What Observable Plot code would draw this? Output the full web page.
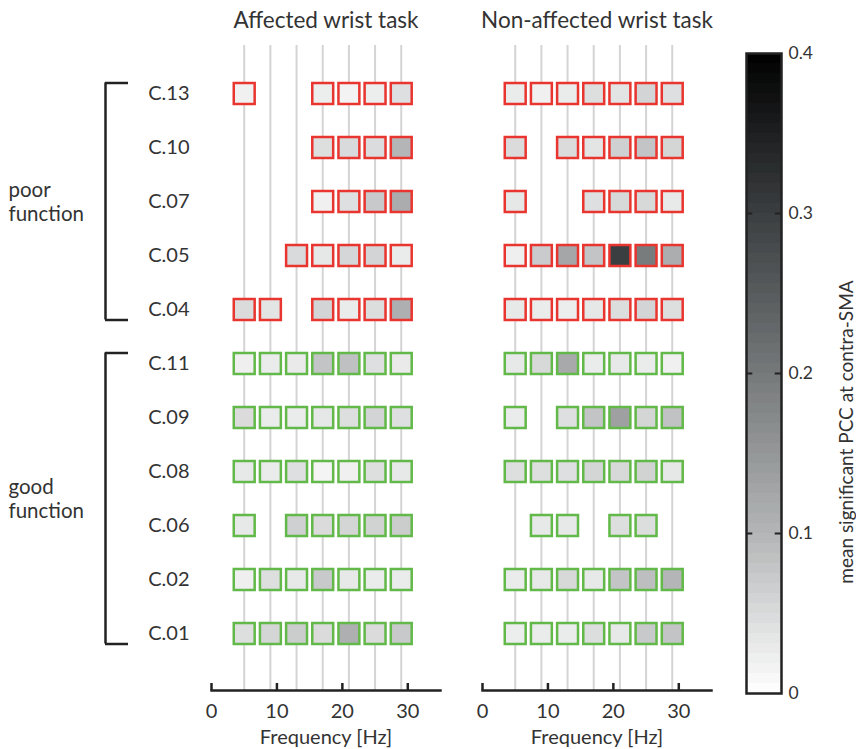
<!DOCTYPE html>
<html><head><meta charset="utf-8">
<script src="https://cdn.jsdelivr.net/npm/d3@7"></script>
<script src="https://cdn.jsdelivr.net/npm/@observablehq/plot@0.6"></script>
<style>
body{margin:0;background:#fff;}
#chart{position:relative;width:856px;height:749px;font-family:Lato,sans-serif;color:#333;}
#chart svg{position:absolute;left:0;top:0;overflow:visible;}
#cblabel{position:absolute;left:845px;top:432px;transform:translate(-50%,-50%) rotate(-90deg);white-space:nowrap;font-size:19px;line-height:1;}
</style></head><body><div id="chart"></div>
<script>
const subjects = ["C.13","C.10","C.07","C.05","C.04","C.11","C.09","C.08","C.06","C.02","C.01"];
const groups = ["poor","poor","poor","poor","poor","good","good","good","good","good","good"];
const groupNames = {poor: "poor\nfunction", good: "good\nfunction"};
const tasks = ["Affected wrist task","Non-affected wrist task"];
const frequencies = [5,9,13,17,21,25,29];
const affected = [
  [0.020, null, null, 0.025, 0.016, 0.025, 0.043],
  [null, null, null, 0.045, 0.050, 0.047, 0.100],
  [null, null, null, 0.020, 0.043, 0.073, 0.115],
  [null, null, 0.050, 0.033, 0.055, 0.058, 0.027],
  [0.048, 0.037, null, 0.058, 0.027, 0.046, 0.110],
  [0.021, 0.027, 0.028, 0.080, 0.085, 0.043, 0.028],
  [0.048, 0.027, 0.027, 0.033, 0.045, 0.058, 0.043],
  [0.031, 0.027, 0.043, 0.015, 0.020, 0.045, 0.031],
  [0.031, null, 0.063, 0.048, 0.056, 0.060, 0.068],
  [0.021, 0.045, 0.031, 0.073, 0.031, 0.027, 0.027],
  [0.045, 0.056, 0.068, 0.048, 0.110, 0.048, 0.073]
];
const nonAffected = [
  [0.027, 0.020, 0.027, 0.045, 0.037, 0.058, 0.043],
  [0.048, null, 0.048, 0.037, 0.063, 0.080, 0.056],
  [0.033, null, null, 0.043, 0.053, 0.053, 0.030],
  [0.021, 0.070, 0.125, 0.080, 0.300, 0.195, 0.113],
  [0.031, 0.027, 0.025, 0.033, 0.046, 0.058, 0.045],
  [0.031, 0.053, 0.120, 0.027, 0.031, 0.027, 0.020],
  [0.027, null, 0.043, 0.080, 0.135, 0.056, 0.082],
  [0.045, 0.045, 0.043, 0.056, 0.053, 0.060, 0.033],
  [null, 0.031, 0.031, null, 0.045, 0.046, null],
  [0.027, 0.031, 0.053, 0.031, 0.080, 0.088, 0.100],
  [0.025, 0.027, 0.027, 0.046, 0.031, 0.073, 0.080]
];
const xTicks = [0, 10, 20, 30];
const xLabel = "Frequency [Hz]";
const colorTicks = [0, 0.1, 0.2, 0.3, 0.4];
const colorStops = [0, 0.1, 0.2, 0.3, 0.4];
const colorRange = ["#ffffff", "#b3b5b6", "#76797a", "#3b3e40", "#000000"];
const colorLabel = "mean significant PCC at contra-SMA";

const RED = "#e9352f", GREEN = "#62b848", INK = "#333333", LINE = "#222222";
const colorScale = {type: "linear", domain: colorStops, range: colorRange};

const cells = [];
tasks.forEach((task, t) => {
  const m = t === 0 ? affected : nonAffected;
  subjects.forEach((s, i) => frequencies.forEach((f, j) => {
    const v = m[i][j];
    if (v != null) cells.push({task, subject: s, group: groups[i], freq: f, value: v});
  }));
});
const gridLines = tasks.flatMap(task => frequencies.map(freq => ({task, freq})));

const main = Plot.plot({
  width: 856, height: 749,
  marginLeft: 211, marginRight: 145, marginTop: 45, marginBottom: 59,
  style: {fontFamily: "Lato, sans-serif", fontSize: "20px", color: INK, background: "transparent"},
  fx: {domain: tasks, paddingInner: 0.155, paddingOuter: 0, label: null},
  x: {domain: [0, 35]},
  y: {type: "point", domain: subjects, padding: 0.972, align: 0.457},
  color: colorScale,
  marks: [
    Plot.ruleX(gridLines, {fx: "task", x: "freq", stroke: "#d4d4d4", strokeWidth: 2}),
    Plot.frame({anchor: "bottom", stroke: LINE, strokeWidth: 2.5}),
    Plot.axisFx({anchor: "top", tickSize: 0, tickPadding: 18, fontSize: 22.5, label: null}),
    Plot.axisX({ticks: xTicks, tickSize: -7, tickPadding: 20, stroke: LINE, strokeWidth: 2.5, label: null}),
    Plot.text(tasks, {fx: d => d, text: () => xLabel, frameAnchor: "bottom", lineAnchor: "middle", dy: 47, fill: INK}),
    Plot.axisY({tickSize: 0, tickPadding: 22, label: null}),
    Plot.dot(cells.filter(d => d.group === "poor"), {fx: "task", x: "freq", y: "subject", fill: "value",
      stroke: RED, strokeWidth: 2.5, symbol: "square", r: 11.8}),
    Plot.dot(cells.filter(d => d.group === "good"), {fx: "task", x: "freq", y: "subject", fill: "value",
      stroke: GREEN, strokeWidth: 2.5, symbol: "square", r: 11.8})
  ]
});

// brackets + group labels
const bracketGroups = ["poor", "good"].map(g => {
  const idx = groups.map((d, i) => d === g ? i : -1).filter(i => i >= 0);
  return {name: groupNames[g], first: d3.min(idx), last: d3.max(idx), mid: (d3.min(idx) + d3.max(idx)) / 2};
});
const brackets = Plot.plot({
  width: 856, height: 749,
  marginLeft: 105, marginRight: 728, marginTop: 45, marginBottom: 59,
  style: {fontFamily: "Lato, sans-serif", fontSize: "20.5px", color: INK, background: "transparent"},
  x: {domain: [0, 1], axis: null},
  y: {domain: [0, subjects.length - 1], range: [93, 633], axis: null},
  marks: [
    Plot.ruleX(bracketGroups, {x: 0, y1: "first", y2: "last", insetTop: -10.5, insetBottom: -10.5, stroke: LINE, strokeWidth: 2.5}),
    Plot.ruleY(bracketGroups, {y: "first", x1: 0, x2: 1, dy: -10.5, stroke: LINE, strokeWidth: 2.5}),
    Plot.ruleY(bracketGroups, {y: "last", x1: 0, x2: 1, dy: 10.5, stroke: LINE, strokeWidth: 2.5}),
    Plot.text(bracketGroups, {x: 0, y: "mid", text: "name", dx: -97, textAnchor: "start", lineHeight: 1.14, fill: INK})
  ]
});

// colorbar
const nLevels = 64;
const levels = d3.range(nLevels).map(i => ({lo: i * 0.4 / nLevels, hi: (i + 1) * 0.4 / nLevels}));
const bar = Plot.plot({
  width: 856, height: 749,
  marginLeft: 746, marginRight: 75, marginTop: 53, marginBottom: 56,
  style: {fontFamily: "Lato, sans-serif", fontSize: "17.5px", color: INK, background: "transparent"},
  x: {domain: [0, 1], axis: null},
  y: {domain: [0, 0.4], axis: null},
  color: colorScale,
  marks: [
    Plot.rect(levels, {x1: 0, x2: 1, y1: "lo", y2: "hi", fill: d => (d.lo + d.hi) / 2, shapeRendering: "crispEdges"}),
    Plot.ruleY(colorTicks.slice(1, -1), {x1: 0, x2: 0.18, stroke: LINE, strokeWidth: 2}),
    Plot.ruleY(colorTicks.slice(1, -1), {x1: 0.82, x2: 1, stroke: LINE, strokeWidth: 2}),
    Plot.frame({stroke: LINE, strokeWidth: 2.5}),
    Plot.axisY({anchor: "right", ticks: colorTicks, tickSize: 0, tickPadding: 7,
      tickFormat: d => d === 0 ? "0" : d3.format(".1f")(d), label: null})
  ]
});

const root = document.getElementById("chart");
root.append(main, brackets, bar);
const lab = document.createElement("div");
lab.id = "cblabel";
lab.textContent = colorLabel;
root.append(lab);
</script></body></html>
